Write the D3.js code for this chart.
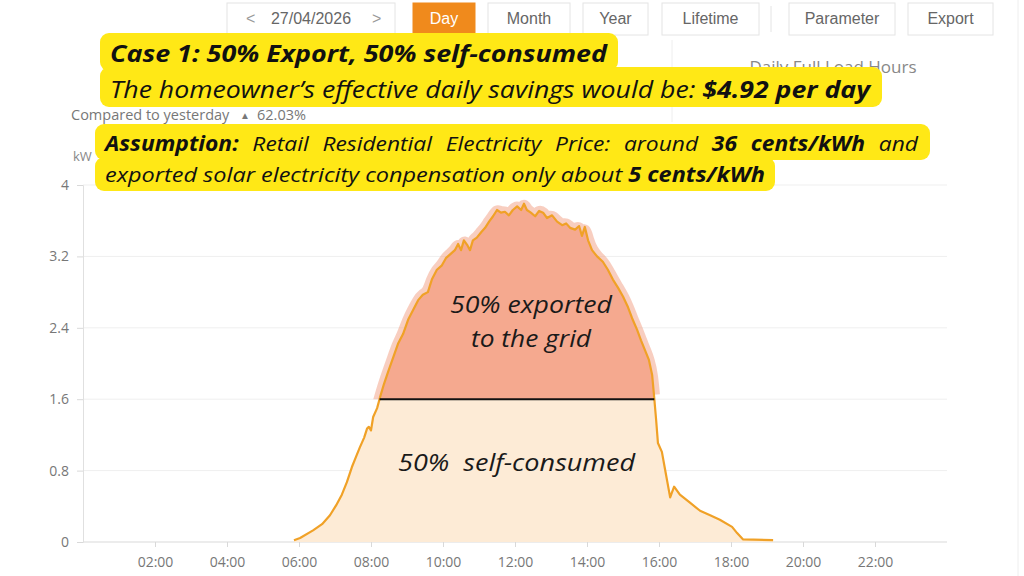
<!DOCTYPE html>
<html><head><meta charset="utf-8">
<script src="https://cdn.jsdelivr.net/npm/d3@7/dist/d3.min.js"></script>
<style>
html,body{margin:0;padding:0;background:#fff;}
svg{display:block;}
</style></head>
<body><svg id="c" width="1024" height="576"></svg>
<script>
// ---- data ----
const hours = [5.86,6.03,6.39,6.64,6.86,7.03,7.19,7.33,7.47,7.58,7.69,7.81,7.89,7.94,8.0,8.06,8.17,8.25,8.36,8.47,8.61,8.75,8.89,9.03,9.17,9.31,9.44,9.58,9.69,9.83,9.97,10.08,10.19,10.33,10.42,10.5,10.58,10.67,10.75,10.83,10.94,11.06,11.17,11.28,11.39,11.5,11.61,11.72,11.83,11.94,12.06,12.17,12.25,12.33,12.44,12.56,12.67,12.78,12.89,13.03,13.17,13.31,13.42,13.53,13.67,13.78,13.86,13.94,14.03,14.14,14.28,14.44,14.58,14.72,14.86,15.0,15.14,15.25,15.39,15.5,15.61,15.72,15.81,15.86,15.92,15.97,16.08,16.17,16.31,16.42,16.58,16.86,17.14,17.42,17.69,18.03,18.17,18.33,19.17];
const powerKW = [0.02,0.045,0.13,0.20,0.30,0.41,0.53,0.67,0.84,0.95,1.06,1.17,1.27,1.29,1.25,1.40,1.50,1.62,1.77,1.90,2.06,2.22,2.33,2.49,2.60,2.71,2.77,2.80,2.94,3.05,3.10,3.18,3.22,3.27,3.34,3.27,3.38,3.33,3.27,3.38,3.41,3.47,3.52,3.59,3.65,3.72,3.69,3.70,3.66,3.72,3.76,3.72,3.79,3.72,3.69,3.65,3.71,3.69,3.63,3.66,3.59,3.55,3.57,3.52,3.50,3.54,3.43,3.53,3.38,3.27,3.20,3.14,3.05,2.94,2.85,2.75,2.63,2.51,2.38,2.26,2.15,2.04,1.87,1.65,1.37,1.11,1.01,0.81,0.50,0.62,0.53,0.44,0.35,0.30,0.25,0.17,0.10,0.03,0.02];
const yTicks = [0,0.8,1.6,2.4,3.2,4];
const xTickHours = [2,4,6,8,10,12,14,16,18,20,22];
const xTickLabels = ["02:00","04:00","06:00","08:00","10:00","12:00","14:00","16:00","18:00","20:00","22:00"];
const selfConsumedKW = 1.6;
const navButtons = ["Day","Month","Year","Lifetime"];
const actionButtons = ["Parameter","Export"];
const dateLabel = "27/04/2026";

const svg = d3.select("#c");
const FONT = "'Open Sans', 'Noto Sans', sans-serif";
const UI = "'Liberation Sans Narrow', 'Liberation Sans', Arial, sans-serif";

const x = d3.scaleLinear().domain([0,24]).range([83,947]);
const y = d3.scaleLinear().domain([0,4]).range([542,185]);
const pts = hours.map((h,i)=>({h, v: powerKW[i]}));

// ---- top UI bar ----
const bar = svg.append("g");
bar.append("rect").attr("x",227).attr("y",3).attr("width",168).attr("height",32).attr("fill","#fff").attr("stroke","#e4e4e4");
bar.append("text").attr("x",246).attr("y",24).attr("font-family",UI).attr("font-size",16).attr("fill","#999").text("<");
bar.append("text").attr("x",311).attr("y",24).attr("text-anchor","middle").attr("font-family",UI).attr("font-size",16).attr("fill","#666").text(dateLabel);
bar.append("text").attr("x",372).attr("y",24).attr("font-family",UI).attr("font-size",16).attr("fill","#999").text(">");
const navX = [[413,62],[488,82],[583,65],[662,97]];
navButtons.forEach((b,i)=>{
  const [bx,bw] = navX[i];
  const active = i===0;
  bar.append("rect").attr("x",bx).attr("y",3).attr("width",bw).attr("height",32)
    .attr("fill",active?"#F08A1C":"#fff").attr("stroke",active?"#F08A1C":"#e4e4e4");
  bar.append("text").attr("x",bx+bw/2).attr("y",24).attr("text-anchor","middle").attr("font-family",UI)
    .attr("font-size",16).attr("fill",active?"#fff":"#666").text(b);
});
bar.append("line").attr("x1",771).attr("x2",771).attr("y1",6).attr("y2",32).attr("stroke","#e4e4e4");
const actX = [[789,106],[908,85]];
actionButtons.forEach((b,i)=>{
  const [bx,bw] = actX[i];
  bar.append("rect").attr("x",bx).attr("y",3).attr("width",bw).attr("height",32).attr("fill","#fff").attr("stroke","#e4e4e4");
  bar.append("text").attr("x",bx+bw/2).attr("y",24).attr("text-anchor","middle").attr("font-family",UI)
    .attr("font-size",16).attr("fill","#666").text(b);
});
// panel dividers
svg.append("line").attr("x1",672).attr("x2",672).attr("y1",40).attr("y2",122).attr("stroke","#eee");
svg.append("line").attr("x1",1018).attr("x2",1018).attr("y1",0).attr("y2",576).attr("stroke","#eee");
svg.append("text").attr("x",833).attr("y",73).attr("text-anchor","middle").attr("font-family",FONT)
  .attr("font-size",17).attr("fill","#888").text("Daily Full Load Hours");
const cmp = svg.append("text").attr("x",71).attr("y",120).attr("font-family",FONT).attr("font-size",14.5).attr("fill","#777");
cmp.append("tspan").text("Compared to yesterday");
cmp.append("tspan").attr("x",240).attr("font-size",10).attr("dy",-1).text("\u25B2");
cmp.append("tspan").attr("x",257).attr("dy",1).text("62.03%");
svg.append("text").attr("x",73).attr("y",161).attr("font-family",FONT).attr("font-size",13).attr("fill","#888").text("kW");

// ---- chart grid & axes ----
const grid = svg.append("g");
yTicks.forEach(t=>{
  grid.append("line").attr("x1",x(0)).attr("x2",x(24)).attr("y1",y(t)).attr("y2",y(t))
    .attr("stroke", t===0?"#d9d9d9":"#efefef");
});
const yAxis = svg.append("g").attr("transform",`translate(${x(0)},0)`)
  .call(d3.axisLeft(y).tickValues(yTicks).tickSize(6).tickPadding(8).tickFormat(d=>d3.format("")(d)));
yAxis.select(".domain").attr("stroke","#e0e0e0");
yAxis.selectAll(".tick line").attr("stroke","#d9d9d9");
yAxis.selectAll("text").attr("font-family",FONT).attr("font-size",14).attr("fill","#777");

const xAxis = svg.append("g").attr("transform",`translate(0,${y(0)})`)
  .call(d3.axisBottom(x).tickValues(xTickHours).tickSize(5).tickPadding(10).tickFormat((d,i)=>xTickLabels[i]));
xAxis.select(".domain").remove();
xAxis.selectAll(".tick line").attr("stroke","#d9d9d9");
xAxis.selectAll("text").attr("font-family",FONT).attr("font-size",14).attr("fill","#777");

// ---- areas ----
const area = d3.area().x(d=>x(d.h)).y0(y(0)).y1(d=>y(d.v));
const line = d3.line().x(d=>x(d.h)).y(d=>y(d.v));

svg.append("path").datum(pts).attr("d",area).attr("fill","#FDEBD6");

svg.append("clipPath").attr("id","exp").append("rect")
  .attr("x",0).attr("y",0).attr("width",1024).attr("height",y(selfConsumedKW));
// translucent hand-drawn highlight blob
const blobLine = d3.line().x(d=>x(d.h)).y(d=>y(d.v)).curve(d3.curveBasis);
const exportPts = pts.filter(d=>d.v>=selfConsumedKW-0.2);
svg.append("path").datum(exportPts).attr("d",blobLine).attr("clip-path","url(#exp)")
  .attr("fill","#F3A58C").attr("fill-opacity",0.55).attr("stroke","#F3A58C").attr("stroke-opacity",0.55)
  .attr("stroke-width",12).attr("stroke-linejoin","round");
svg.append("path").datum(pts).attr("d",area).attr("clip-path","url(#exp)").attr("fill","#F5A98F");

// line at 1.6 between crossings
function crossing(rising){
  for(let i=1;i<pts.length;i++){
    const a=pts[i-1], b=pts[i];
    if(rising ? (a.v<selfConsumedKW && b.v>=selfConsumedKW) : (a.v>=selfConsumedKW && b.v<selfConsumedKW)){
      return a.h + (selfConsumedKW-a.v)/(b.v-a.v)*(b.h-a.h);
    }
  }
}
const h1 = crossing(true), h2 = crossing(false);

svg.append("path").datum(pts).attr("d",line).attr("fill","none").attr("stroke","#F0A127")
  .attr("stroke-width",2.2).attr("stroke-linejoin","round");
svg.append("line").attr("x1",x(h1)).attr("x2",x(h2)).attr("y1",y(selfConsumedKW)).attr("y2",y(selfConsumedKW))
  .attr("stroke","#111").attr("stroke-width",2);

// labels in areas
const lab = svg.append("g").attr("font-family",FONT).attr("font-style","italic").attr("font-size",24).attr("fill","#1a1a1a");
lab.append("text").attr("x",450).attr("y",313).attr("textLength",162).attr("lengthAdjust","spacingAndGlyphs").text("50% exported");
lab.append("text").attr("x",471).attr("y",347).attr("textLength",120).attr("lengthAdjust","spacingAndGlyphs").text("to the grid");
lab.append("text").attr("x",398).attr("y",471).attr("textLength",237).attr("lengthAdjust","spacingAndGlyphs").attr("xml:space","preserve").style("white-space","pre").text("50%  self-consumed");

// ---- yellow annotation boxes ----
const Y = "#FFE816";
const boxes = [[100,33,518,38],[100,67,782,40],[95,124,835,36],[95,157,680,34]];
boxes.forEach(b=>svg.append("rect").attr("x",b[0]).attr("y",b[1]).attr("width",b[2]).attr("height",b[3]).attr("rx",9).attr("fill",Y));

const t1 = svg.append("text").attr("x",110).attr("y",62).attr("font-family",FONT).attr("font-style","italic")
  .attr("font-weight","bold").attr("font-size",24).attr("fill","#111")
  .attr("textLength",497).attr("lengthAdjust","spacingAndGlyphs").text("Case 1: 50% Export, 50% self-consumed");
const t2 = svg.append("text").attr("x",110).attr("y",98).attr("font-family",FONT).attr("font-style","italic")
  .attr("font-size",23).attr("fill","#111").attr("textLength",760).attr("lengthAdjust","spacingAndGlyphs");
t2.append("tspan").text("The homeowner\u2019s effective daily savings would be: ");
t2.append("tspan").attr("font-weight","bold").text("$4.92 per day");

// justified line: moderate word gaps, glyphs stretched to fill the box
const t3 = svg.append("text").attr("x",105).attr("y",151).attr("font-family",FONT).attr("font-style","italic")
  .attr("font-size",20.5).attr("fill","#111").attr("word-spacing",7)
  .attr("textLength",813).attr("lengthAdjust","spacingAndGlyphs");
t3.append("tspan").attr("font-weight","bold").text("Assumption:");
t3.append("tspan").text(" Retail Residential Electricity Price: around ");
t3.append("tspan").attr("font-weight","bold").text("36 cents/kWh");
t3.append("tspan").text(" and");

const t4 = svg.append("text").attr("x",105).attr("y",182).attr("font-family",FONT).attr("font-style","italic")
  .attr("font-size",20.5).attr("fill","#111").attr("textLength",660).attr("lengthAdjust","spacingAndGlyphs");
t4.append("tspan").text("exported solar electricity conpensation only about ");
t4.append("tspan").attr("font-weight","bold").text("5 cents/kWh");
</script></body></html>
